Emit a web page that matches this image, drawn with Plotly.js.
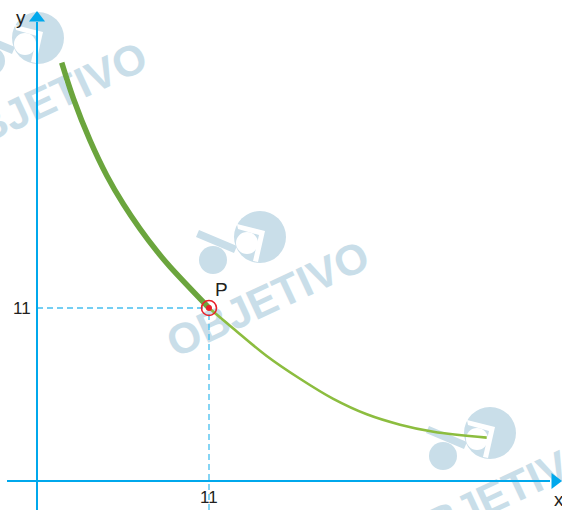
<!DOCTYPE html>
<html>
<head>
<meta charset="utf-8">
<script src="https://cdn.plot.ly/plotly-3.0.1.min.js"></script>
<style>html,body{margin:0;padding:0;background:#fff;}#chart{width:562px;height:510px;}</style>
</head>
<body>
<div id="chart"></div>
<script>
// Curve (thick part up to P, thin part after P)
var thickX = [1.58, 2.32, 3.39, 4.46, 5.52, 6.59, 7.66, 8.5, 11];
var thickY = [26.6, 24.34, 21.66, 19.43, 17.61, 16.03, 14.62, 13.63, 11];
var thinX = [11, 12.55, 14.69, 16.82, 18.95, 21.09, 23.22, 25.35, 28.76];
var thinY = [11, 9.70, 7.95, 6.50, 5.22, 4.24, 3.58, 3.13, 2.76];
var pointP = [11, 11];
var tickX = ["11"];
var tickY = ["11"];
var pointLabel = "P";
var axisLabels = ["x", "y"];
var watermark = "OBJETIVO";

// pixel -> data helpers for layout (page 562x510, origin at pixel (37,481))
var W = 562, H = 510, ox = 37, oy = 481, sx = (209 - 37) / 11, sy = (481 - 308) / 11;
function dx(px) { return (px - ox) / sx; }
function dy(py) { return (oy - py) / sy; }

var axisCol = '#00a8ec', dashCol = '#45bff0', textCol = '#231f20', wmCol = '#c9dee9';

var traces = [
  { x: [pointP[0], pointP[0]], y: [dy(510), pointP[1]], mode: 'lines', line: { color: dashCol, width: 1.3, dash: '6px,4px' }, hoverinfo: 'skip' },
  { x: [dx(37), pointP[0]], y: [pointP[1], pointP[1]], mode: 'lines', line: { color: dashCol, width: 1.3, dash: '6px,4px' }, hoverinfo: 'skip' },
  { x: thinX, y: thinY, mode: 'lines', line: { color: '#8cbd3f', width: 2.6, shape: 'spline', smoothing: 1 } },
  { x: thickX, y: thickY, mode: 'lines', line: { color: '#6ba53d', width: 5.5, shape: 'spline', smoothing: 1 } },
  { x: [0, 0], y: [dy(510), dy(22)], mode: 'lines', line: { color: axisCol, width: 2 } },
  { x: [dx(7), dx(550)], y: [0, 0], mode: 'lines', line: { color: axisCol, width: 2 } },
  { x: [0], y: [dy(18)], mode: 'markers', marker: { symbol: 'triangle-up', size: 14, color: axisCol } },
  { x: [dx(555)], y: [0], mode: 'markers', marker: { symbol: 'triangle-right', size: 14, color: axisCol } },
  { x: [pointP[0]], y: [pointP[1]], mode: 'markers', marker: { symbol: 'circle-open', size: 15, color: '#e8202a', line: { width: 1.6, color: '#e8202a' } } },
  { x: [pointP[0]], y: [pointP[1]], mode: 'markers', marker: { symbol: 'circle', size: 6, color: '#e8202a' } }
];

// watermark (logo + word) centres in page pixels, drawn below the traces
var wmCentres = [[44, 96], [266, 295], [496, 491]];
var shapes = [];
function circ(cx, cy, r, col) {
  return { type: 'circle', layer: 'below', xref: 'x', yref: 'y', x0: dx(cx - r), x1: dx(cx + r), y0: dy(cy + r), y1: dy(cy - r), fillcolor: col, line: { width: 0 } };
}
function poly(pts, col) {
  var p = 'M' + pts.map(function (q) { return dx(q[0]) + ',' + dy(q[1]); }).join('L') + 'Z';
  return { type: 'path', layer: 'below', xref: 'x', yref: 'y', path: p, fillcolor: col, line: { width: 0 } };
}
wmCentres.forEach(function (c) {
  var cx = c[0], cy = c[1];
  // bar of the logo
  shapes.push(poly([[cx - 70, cy - 58], [cx - 67, cy - 65], [cx - 29, cy - 49], [cx - 32, cy - 42]], wmCol));
  // big ball with white inner mark
  shapes.push(circ(cx - 6, cy - 58, 26, wmCol));
  shapes.push(poly([[cx - 29, cy - 71], [cx - 1, cy - 64], [cx - 8, cy - 33], [cx - 13, cy - 34], [cx - 7, cy - 60], [cx - 28, cy - 66]], '#ffffff'));
  shapes.push(circ(cx - 19, cy - 52, 11, '#ffffff'));
  // small ball
  shapes.push(circ(cx - 53, cy - 35, 14, wmCol));
  shapes.push({ type: 'line', layer: 'below', xref: 'x', yref: 'y', x0: dx(cx - 20), x1: dx(cx + 20), y0: dy(cy + 9.3), y1: dy(cy - 9.3), line: { width: 0, color: 'rgba(0,0,0,0)' },
    label: { text: '<b>' + watermark + '</b>', textangle: -25, textposition: 'middle', xanchor: 'center', yanchor: 'middle', padding: 0,
      font: { family: 'Liberation Sans, Arial, sans-serif', size: 43, color: wmCol } } });
});

var f = { family: 'Liberation Sans, Arial, Helvetica, sans-serif', size: 17, color: textCol };
var annotations = [
  { x: pointP[0], y: 0, xref: 'x', yref: 'y', text: tickX[0], showarrow: false, yanchor: 'top', yshift: -5, font: f },
  { x: 0, y: pointP[1], xref: 'x', yref: 'y', text: tickY[0], showarrow: false, xanchor: 'right', xshift: -4, font: f },
  { x: pointP[0], y: pointP[1], xref: 'x', yref: 'y', text: pointLabel, showarrow: false, xshift: 12, yshift: 19, font: { family: f.family, size: 19, color: textCol } },
  { x: 21 / W, y: 1 - 18 / H, xref: 'paper', yref: 'paper', text: axisLabels[1], showarrow: false, xanchor: 'center', yanchor: 'middle', font: { family: f.family, size: 19, color: textCol } },
  { x: 552 / W, y: 1 - 499 / H, xref: 'paper', yref: 'paper', text: axisLabels[0], showarrow: false, xanchor: 'left', yanchor: 'middle', font: { family: f.family, size: 19, color: textCol } }
];

var layout = {
  width: W, height: H,
  margin: { l: 0, r: 0, t: 0, b: 0 },
  paper_bgcolor: '#ffffff', plot_bgcolor: '#ffffff',
  showlegend: false,
  xaxis: { range: [dx(0), dx(W)], visible: false, fixedrange: true },
  yaxis: { range: [dy(H), dy(0)], visible: false, fixedrange: true },
  shapes: shapes,
  annotations: annotations
};

Plotly.newPlot('chart', traces, layout, { staticPlot: true, displayModeBar: false });
</script>
</body>
</html>
